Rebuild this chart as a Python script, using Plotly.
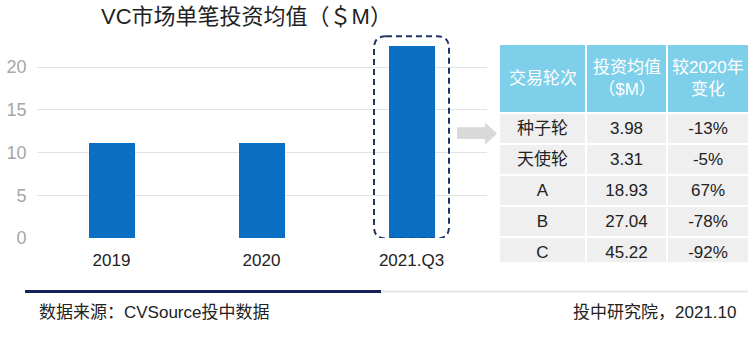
import plotly.graph_objects as go

# ---- data ----
periods = ["2019", "2020", "2021.Q3"]
avg_invest = [11.1, 11.1, 22.4]
y_ticks = [0, 5, 10, 15, 20]

table_header = ["交易轮次", "投资均值<br>（$M）", "较2020年<br>变化"]
rounds = ["种子轮", "天使轮", "A", "B", "C"]
round_avg = ["3.98", "3.31", "18.93", "27.04", "45.22"]
round_change = ["-13%", "-5%", "67%", "-78%", "-92%"]

title_text = "VC市场单笔投资均值（＄M）"
source_text = "数据来源：CVSource投中数据"
credit_text = "投中研究院，2021.10"

W, H = 750, 354
FONT = "Liberation Sans, Noto Sans CJK SC, sans-serif"


def px(x):
    return x / W


def py(y):
    return (H - y) / H


fig = go.Figure()

fig.add_trace(go.Bar(
    x=periods, y=avg_invest, width=0.31,
    marker=dict(color="#0a6fc2", line=dict(width=0)),
    hoverinfo="x+y", showlegend=False,
))

col_w = [87, 81, 82]
tbl_x0, tbl_x1 = 499, 749
fig.add_trace(go.Table(
    domain=dict(x=[px(tbl_x0), px(tbl_x1)], y=[py(270), py(45.5)]),
    columnwidth=col_w,
    header=dict(
        values=[""] * len(table_header),
        fill_color="#7ecfea",
        line=dict(color="white", width=1.5),
        font=dict(family=FONT, size=17, color="white"),
        align="center", height=69,
    ),
    cells=dict(
        values=[rounds, round_avg, round_change],
        fill_color="#efefef",
        line=dict(color="white", width=1.5),
        font=dict(family=FONT, size=17, color="#222222"),
        align="center", height=31,
    ),
))

# dashed rounded highlight around last bar (category index 2)
x0, x1 = 2 - 0.25, 2 + 0.25
y0, y1 = -0.05, 23.6
rx, ry = 12 / 150, 12 / 8.8
path = (f"M {x0+rx},{y1} L {x1-rx},{y1} Q {x1},{y1} {x1},{y1-ry} "
        f"L {x1},{y0+ry} Q {x1},{y0} {x1-rx},{y0} L {x0+rx},{y0} "
        f"Q {x0},{y0} {x0},{y0+ry} L {x0},{y1-ry} Q {x0},{y1} {x0+rx},{y1} Z")
shapes = [
    dict(type="path", xref="x", yref="y", path=path,
         line=dict(color="#1f3566", width=2, dash="6px,4px")),
    # arrow
    dict(type="path", xref="paper", yref="paper",
         path=(f"M {px(457)},{py(131)} L {px(485)},{py(131)} L {px(485)},{py(126)} "
               f"L {px(497)},{py(137.5)} L {px(485)},{py(149)} L {px(485)},{py(143)} "
               f"L {px(457)},{py(143)} Z"),
         fillcolor="#d9d9d9", line=dict(width=0)),
    # footer rules
    dict(type="line", xref="paper", yref="paper", x0=px(381), x1=px(748),
         y0=py(300), y1=py(300), line=dict(color="#e6e6e6", width=2)),
    dict(type="line", xref="paper", yref="paper", x0=px(25), x1=px(381),
         y0=py(300), y1=py(300), line=dict(color="#14215a", width=3)),
]

annotations = [
    dict(text=title_text, x=px(246), y=py(17), xref="paper", yref="paper",
         showarrow=False, xanchor="center", yanchor="middle",
         font=dict(family=FONT, size=22, color="#222222")),
    dict(text=source_text, x=px(37), y=py(322), xref="paper", yref="paper",
         showarrow=False, xanchor="left", yanchor="middle",
         font=dict(family=FONT, size=17, color="#222222")),
    dict(text=credit_text, x=px(738), y=py(322), xref="paper", yref="paper",
         showarrow=False, xanchor="right", yanchor="middle",
         font=dict(family=FONT, size=17, color="#222222")),
]

# header labels, centred vertically in the header band
cx = tbl_x0
for label, w in zip(table_header, col_w):
    annotations.append(dict(
        text=label, x=px(cx + w / 2), y=py(81), xref="paper", yref="paper",
        showarrow=False, xanchor="center", yanchor="middle", align="center",
        font=dict(family=FONT, size=17, color="white")))
    cx += w

fig.update_layout(
    width=W, height=H,
    margin=dict(l=0, r=0, t=0, b=0),
    paper_bgcolor="white", plot_bgcolor="white",
    xaxis=dict(domain=[px(36.5), px(486.5)], range=[-0.5, 2.5], type="category",
               showgrid=False, showline=False, ticks="", ticklabelstandoff=10,
               tickfont=dict(family=FONT, size=17, color="#222222")),
    yaxis=dict(domain=[py(245), py(25)], range=[0, 25], tickvals=y_ticks,
               showgrid=True, gridcolor="#e3e3e3", gridwidth=1,
               zeroline=False, showline=False, ticks="", ticklabelstandoff=9,
               tickfont=dict(family=FONT, size=18, color="#a6a6a6")),
    shapes=shapes, annotations=annotations, bargap=0,
)

fig.write_html("out.html")
